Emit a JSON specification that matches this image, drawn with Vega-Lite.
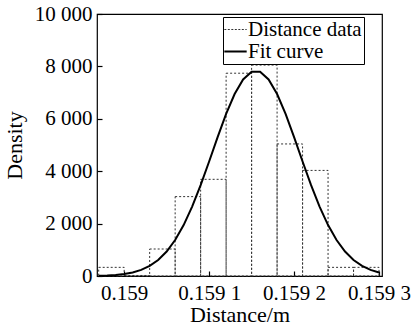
{
  "$schema": "https://vega.github.io/schema/vega-lite/v6.json",
  "width": 285,
  "height": 262,
  "autosize": "none",
  "padding": {"left": 97, "top": 14, "right": 31, "bottom": 49},
  "background": "white",
  "config": {
    "locale": {"number": {"decimal": ".", "thousands": " ", "grouping": [3], "currency": ["", ""]}},
    "view": {"stroke": "black", "strokeWidth": 1.2},
    "legend": {
      "orient": "none",
      "legendX": 126,
      "legendY": 3,
      "symbolType": "stroke",
      "symbolSize": 500,
      "labelFont": "Liberation Serif",
      "labelFontSize": 21,
      "labelColor": "black",
      "labelOffset": 2,
      "strokeColor": "black",
      "fillColor": "white",
      "padding": 2,
      "rowPadding": 0,
      "titlePadding": 0
    }
  },
  "data": {
    "values": [
      {"series": "Distance data", "x0": 0.15897, "x1": 0.15900, "density": 330},
      {"series": "Distance data", "x0": 0.15900, "x1": 0.15903, "density": 20},
      {"series": "Distance data", "x0": 0.15903, "x1": 0.15906, "density": 1030},
      {"series": "Distance data", "x0": 0.15906, "x1": 0.15909, "density": 3030},
      {"series": "Distance data", "x0": 0.15909, "x1": 0.15912, "density": 3690},
      {"series": "Distance data", "x0": 0.15912, "x1": 0.15915, "density": 7740},
      {"series": "Distance data", "x0": 0.15915, "x1": 0.15918, "density": 8050},
      {"series": "Distance data", "x0": 0.15918, "x1": 0.15921, "density": 5040},
      {"series": "Distance data", "x0": 0.15921, "x1": 0.15924, "density": 4030},
      {"series": "Distance data", "x0": 0.15924, "x1": 0.15927, "density": 330},
      {"series": "Distance data", "x0": 0.15927, "x1": 0.15930, "density": 330},
      {"series": "Fit curve", "x0": 0.15897, "density": 11},
      {"series": "Fit curve", "x0": 0.15898, "density": 21},
      {"series": "Fit curve", "x0": 0.15899, "density": 41},
      {"series": "Fit curve", "x0": 0.15900, "density": 76},
      {"series": "Fit curve", "x0": 0.15901, "density": 135},
      {"series": "Fit curve", "x0": 0.15902, "density": 233},
      {"series": "Fit curve", "x0": 0.15903, "density": 384},
      {"series": "Fit curve", "x0": 0.15904, "density": 611},
      {"series": "Fit curve", "x0": 0.15905, "density": 933},
      {"series": "Fit curve", "x0": 0.15906, "density": 1374},
      {"series": "Fit curve", "x0": 0.15907, "density": 1944},
      {"series": "Fit curve", "x0": 0.15908, "density": 2648},
      {"series": "Fit curve", "x0": 0.15909, "density": 3468},
      {"series": "Fit curve", "x0": 0.15910, "density": 4370},
      {"series": "Fit curve", "x0": 0.15911, "density": 5302},
      {"series": "Fit curve", "x0": 0.15912, "density": 6186},
      {"series": "Fit curve", "x0": 0.15913, "density": 6946},
      {"series": "Fit curve", "x0": 0.15914, "density": 7503},
      {"series": "Fit curve", "x0": 0.15915, "density": 7798},
      {"series": "Fit curve", "x0": 0.15916, "density": 7798},
      {"series": "Fit curve", "x0": 0.15917, "density": 7503},
      {"series": "Fit curve", "x0": 0.15918, "density": 6946},
      {"series": "Fit curve", "x0": 0.15919, "density": 6186},
      {"series": "Fit curve", "x0": 0.15920, "density": 5302},
      {"series": "Fit curve", "x0": 0.15921, "density": 4370},
      {"series": "Fit curve", "x0": 0.15922, "density": 3468},
      {"series": "Fit curve", "x0": 0.15923, "density": 2648},
      {"series": "Fit curve", "x0": 0.15924, "density": 1944},
      {"series": "Fit curve", "x0": 0.15925, "density": 1374},
      {"series": "Fit curve", "x0": 0.15926, "density": 933},
      {"series": "Fit curve", "x0": 0.15927, "density": 611},
      {"series": "Fit curve", "x0": 0.15928, "density": 384},
      {"series": "Fit curve", "x0": 0.15929, "density": 233},
      {"series": "Fit curve", "x0": 0.15930, "density": 135}
    ]
  },
  "encoding": {
    "x": {
      "field": "x0", "type": "quantitative",
      "scale": {"domain": [0.158968, 0.1593035], "nice": false, "zero": false},
      "axis": {
        "orient": "bottom",
        "title": "Distance/m",
        "values": [0.159, 0.1591, 0.1592, 0.1593],
        "labelExpr": "datum.value < 0.15905 ? '0.159' : '0.159 ' + substring(format(datum.value, '.4f'), 5)",
        "grid": false,
        "domain": false,
        "tickColor": "black",
        "tickSize": -5,
        "tickWidth": 1.2,
        "labelPadding": 11,
        "labelFont": "Liberation Serif",
        "labelFontSize": 21,
        "labelColor": "black",
        "titleFont": "Liberation Serif",
        "titleFontSize": 22,
        "titleFontWeight": "normal",
        "titleColor": "black",
        "titlePadding": 1
      }
    },
    "y": {
      "field": "density", "type": "quantitative",
      "scale": {"domain": [0, 10000], "nice": false},
      "axis": {
        "orient": "left",
        "title": "Density",
        "values": [0, 2000, 4000, 6000, 8000, 10000],
        "format": ",d",
        "grid": false,
        "domain": false,
        "tickColor": "black",
        "tickSize": -5,
        "tickWidth": 1.2,
        "labelPadding": 10,
        "labelFont": "Liberation Serif",
        "labelFontSize": 21,
        "labelColor": "black",
        "titleFont": "Liberation Serif",
        "titleFontSize": 22,
        "titleFontWeight": "normal",
        "titleColor": "black",
        "titlePadding": 8
      }
    },
    "color": {
      "field": "series", "type": "nominal",
      "scale": {"domain": ["Distance data", "Fit curve"], "range": ["#333333", "#000000"]},
      "legend": {
        "title": null,
        "encode": {
          "symbols": {
            "update": {
              "strokeDash": {"signal": "datum.value == 'Distance data' ? [2, 1.5] : [1, 0]"},
              "strokeWidth": {"signal": "datum.value == 'Distance data' ? 1 : 2"},
              "stroke": {"value": "black"}
            }
          }
        }
      }
    }
  },
  "layer": [
    {
      "transform": [{"filter": "datum.series == 'Distance data'"}],
      "mark": {"type": "rect", "filled": false, "strokeWidth": 1, "strokeDash": [2, 2]},
      "encoding": {
        "x2": {"field": "x1"},
        "y2": {"datum": 0}
      }
    },
    {
      "transform": [{"filter": "datum.series == 'Fit curve'"}],
      "mark": {"type": "line", "strokeWidth": 2},
      "encoding": {}
    }
  ]
}
